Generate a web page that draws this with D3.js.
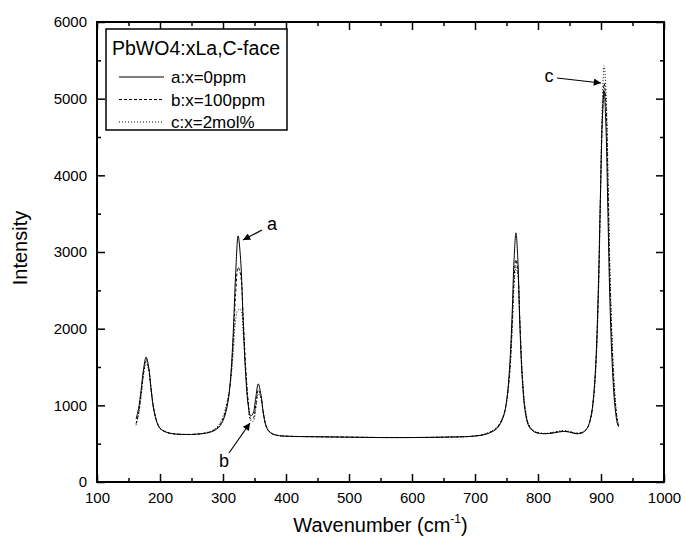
<!DOCTYPE html>
<html>
<head>
<title>PbWO4 Raman</title>
<script src="https://cdn.jsdelivr.net/npm/d3@7"></script>
<style>
body { margin: 0; background: #fff; }
svg { font-family: "Liberation Sans", Arial, sans-serif; }
</style>
</head>
<body>
<svg width="685" height="542"></svg>
<script>
// wavenumbers (cm-1) sampled along the curves
var wave = [162,166,170,174,178,182,186,190,195,200,210,220,240,260,280,290,296,302,308,312,316,320,324,328,332,336,340,344,348,352,356,360,364,368,372,378,385,395,410,450,500,550,600,650,700,720,735,745,750,755,759,762,765,768,771,775,780,786,795,810,825,840,850,860,870,878,884,888,892,896,899,902,905,908,911,914,918,922,926,928];

var seriesA = [820,960,1200,1480,1630,1500,1200,950,780,700,650,630,620,625,650,690,740,840,1050,1350,1900,2700,3210,2900,2100,1400,1000,860,900,1100,1280,1150,900,740,670,630,610,600,595,590,585,580,580,585,600,630,700,850,1050,1500,2200,2900,3250,2900,2100,1350,900,720,650,630,640,660,650,630,640,700,850,1100,1600,2600,3700,4700,5100,4600,3500,2400,1500,1000,760,720];
var seriesB = [760,900,1150,1430,1600,1480,1200,960,790,700,650,630,620,625,655,700,760,870,1080,1330,1800,2450,2800,2700,2150,1500,1050,820,830,1000,1200,1120,900,740,670,630,610,600,595,590,585,580,580,585,600,635,710,860,1040,1420,2050,2650,2900,2750,2150,1400,930,730,655,630,645,665,655,635,645,700,850,1080,1550,2500,3650,4700,5200,4900,3900,2700,1700,1100,800,730];
var seriesC = [740,880,1120,1400,1560,1460,1190,950,790,700,650,630,620,625,660,710,780,900,1100,1300,1650,2100,2250,2250,1950,1450,1050,800,790,950,1150,1100,900,740,670,630,610,600,595,590,585,580,580,585,600,640,720,870,1040,1400,1980,2550,2800,2700,2150,1420,950,740,660,635,650,670,660,640,650,700,840,1060,1500,2450,3700,4900,5430,5100,4100,2850,1800,1150,820,735];

var xTicks = [100,200,300,400,500,600,700,800,900,1000];
var yTicks = [0,1000,2000,3000,4000,5000,6000];

var svg = d3.select("svg");
var pl = 97, pr = 664, pt = 22, pb = 482;

var x = d3.scaleLinear().domain([100, 1000]).range([pl, pr]);
var y = d3.scaleLinear().domain([0, 6000]).range([pb, pt]);

// curves
var line = function(vals){
  return d3.line()
    .x(function(d, i){ return x(wave[i]); })
    .y(function(d){ return y(d); })
    .curve(d3.curveCatmullRom)(vals);
};
svg.append("path").attr("d", line(seriesC))
  .attr("fill", "none").attr("stroke", "#000").attr("stroke-width", 1)
  .attr("stroke-dasharray", "1,2");
svg.append("path").attr("d", line(seriesB))
  .attr("fill", "none").attr("stroke", "#000").attr("stroke-width", 1)
  .attr("stroke-dasharray", "3,2");
svg.append("path").attr("d", line(seriesA))
  .attr("fill", "none").attr("stroke", "#000").attr("stroke-width", 1);

// axes, ticks inward on all four sides
var minorX = d3.range(150, 1000, 100);
var minorY = d3.range(500, 6000, 1000);
var fmt = d3.format("d");
function styleAxis(g){
  g.select(".domain").remove();
  g.selectAll("line").attr("stroke", "#000").attr("stroke-width", 1.5);
  g.selectAll("text").attr("font-size", 15).attr("fill", "#000");
}
svg.append("g").attr("transform", "translate(0," + pb + ")")
  .call(d3.axisBottom(x).tickValues(xTicks).tickFormat(fmt).tickSize(-8).tickPadding(10)).call(styleAxis);
svg.append("g").attr("transform", "translate(0," + pb + ")")
  .call(d3.axisBottom(x).tickValues(minorX).tickSize(-4).tickFormat("")).call(styleAxis);
svg.append("g").attr("transform", "translate(0," + pt + ")")
  .call(d3.axisTop(x).tickValues(xTicks).tickSize(-8).tickFormat("")).call(styleAxis);
svg.append("g").attr("transform", "translate(0," + pt + ")")
  .call(d3.axisTop(x).tickValues(minorX).tickSize(-4).tickFormat("")).call(styleAxis);
svg.append("g").attr("transform", "translate(" + pl + ",0)")
  .call(d3.axisLeft(y).tickValues(yTicks).tickFormat(fmt).tickSize(-8).tickPadding(10)).call(styleAxis);
svg.append("g").attr("transform", "translate(" + pl + ",0)")
  .call(d3.axisLeft(y).tickValues(minorY).tickSize(-4).tickFormat("")).call(styleAxis);
svg.append("g").attr("transform", "translate(" + pr + ",0)")
  .call(d3.axisRight(y).tickValues(yTicks).tickSize(-8).tickFormat("")).call(styleAxis);
svg.append("g").attr("transform", "translate(" + pr + ",0)")
  .call(d3.axisRight(y).tickValues(minorY).tickSize(-4).tickFormat("")).call(styleAxis);

svg.append("rect").attr("x", pl).attr("y", pt)
  .attr("width", pr - pl).attr("height", pb - pt)
  .attr("fill", "none").attr("stroke", "#000").attr("stroke-width", 2);

// axis titles
var xt = svg.append("text").attr("x", (pl + pr) / 2).attr("y", 532)
  .attr("text-anchor", "middle").attr("font-size", 20);
xt.append("tspan").text("Wavenumber (cm");
xt.append("tspan").text("-1").attr("font-size", 12).attr("dy", -9);
xt.append("tspan").text(")").attr("dy", 9);

svg.append("text").attr("transform", "translate(27,248) rotate(-90)")
  .attr("text-anchor", "middle").attr("font-size", 20).text("Intensity");

// legend
var lg = svg.append("g");
lg.append("rect").attr("x", 106).attr("y", 29).attr("width", 181).attr("height", 101)
  .attr("fill", "#fff").attr("stroke", "#000").attr("stroke-width", 1.5);
lg.append("text").attr("x", 112).attr("y", 55).attr("font-size", 19.5).text("PbWO4:xLa,C-face");
var legendLabels = ["a:x=0ppm", "b:x=100ppm", "c:x=2mol%"];
var legendDash = [null, "3,2", "1,2"];
legendLabels.forEach(function(t, i){
  var yy = 77 + i * 22.5;
  lg.append("line").attr("x1", 119).attr("x2", 164).attr("y1", yy).attr("y2", yy)
    .attr("stroke", "#000").attr("stroke-width", 1)
    .attr("stroke-dasharray", legendDash[i]);
  lg.append("text").attr("x", 171).attr("y", yy + 6).attr("font-size", 17).text(t);
});

// annotations with arrows
svg.append("defs").append("marker").attr("id", "ah")
  .attr("viewBox", "0 0 10 10").attr("refX", 10).attr("refY", 5)
  .attr("markerWidth", 9).attr("markerHeight", 6).attr("orient", "auto")
  .append("path").attr("d", "M0,0L10,5L0,10z").attr("fill", "#000");
var notes = [
  {t: "a", tx: 272, ty: 230, x1: 262, y1: 230, x2: 243, y2: 240},
  {t: "b", tx: 224, ty: 467, x1: 229, y1: 453, x2: 250, y2: 423},
  {t: "c", tx: 549, ty: 82, x1: 557, y1: 78, x2: 601, y2: 83}
];
notes.forEach(function(n){
  svg.append("text").attr("x", n.tx).attr("y", n.ty).attr("text-anchor", "middle")
    .attr("font-size", 18).text(n.t);
  svg.append("line").attr("x1", n.x1).attr("y1", n.y1).attr("x2", n.x2).attr("y2", n.y2)
    .attr("stroke", "#000").attr("stroke-width", 1.2).attr("marker-end", "url(#ah)");
});
</script>
</body>
</html>
